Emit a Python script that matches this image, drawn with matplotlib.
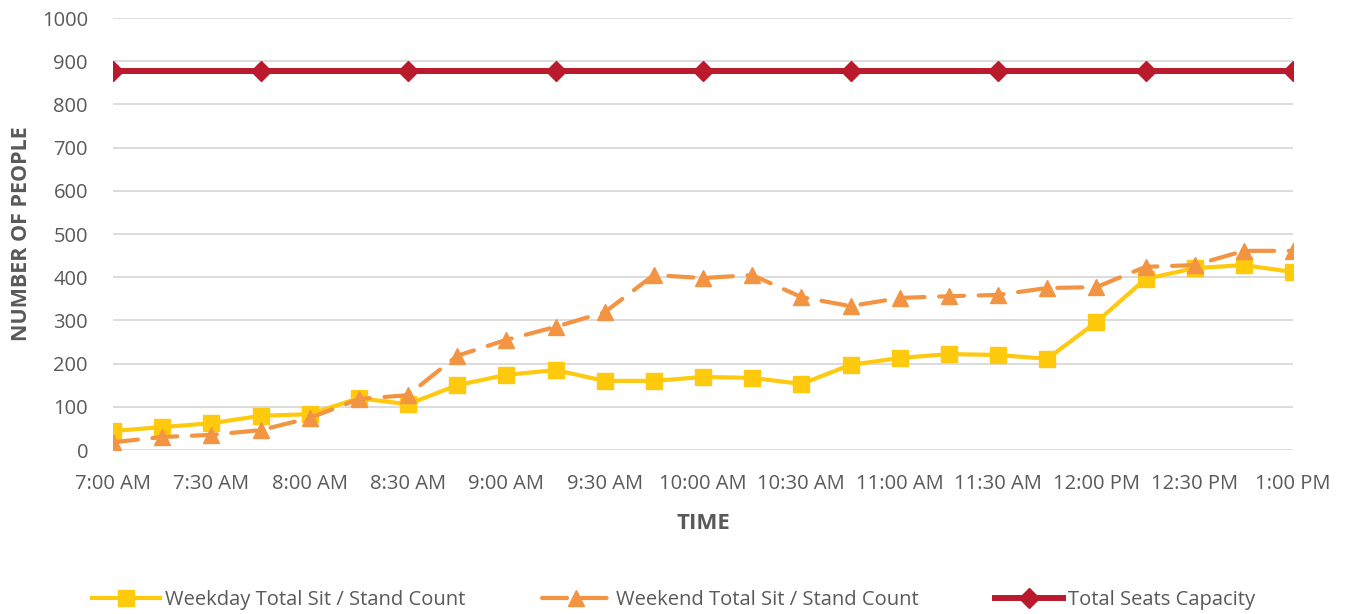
import matplotlib
matplotlib.use('Agg')
import matplotlib.pyplot as plt
from matplotlib.lines import Line2D

plt.rcParams['font.family'] = ['Open Sans', 'DejaVu Sans']

# 15-minute slots from 7:00 AM to 1:00 PM
times = ['7:00 AM', '7:15 AM', '7:30 AM', '7:45 AM', '8:00 AM', '8:15 AM', '8:30 AM',
         '8:45 AM', '9:00 AM', '9:15 AM', '9:30 AM', '9:45 AM', '10:00 AM', '10:15 AM',
         '10:30 AM', '10:45 AM', '11:00 AM', '11:15 AM', '11:30 AM', '11:45 AM',
         '12:00 PM', '12:15 PM', '12:30 PM', '12:45 PM', '1:00 PM']
weekday = [44, 53, 62, 79, 83, 120, 106, 150, 174, 185, 160, 160, 169, 167, 153,
           197, 213, 222, 220, 211, 296, 396, 421, 428, 412]
weekend = [18, 30, 35, 46, 74, 118, 127, 218, 255, 285, 319, 405, 398, 405, 354,
           333, 352, 356, 359, 375, 377, 424, 428, 461, 461]
capacity = [877] * len(times)

c_weekday = '#FFC90E'
c_weekend = '#F39443'
c_cap = '#B91B2C'
gray = '#595959'

fig = plt.figure(figsize=(13.47, 6.14), dpi=100)
ax = fig.add_axes([113 / 1347, 1 - 450 / 614, 1180 / 1347, 432 / 614])

x = list(range(len(times)))
ax.plot(x, capacity, color=c_cap, lw=4.3, marker='D', ms=10, markevery=3, zorder=3)
ax.plot(x, weekday, color=c_weekday, lw=3, marker='s', ms=12, zorder=4)
ax.plot(x, weekend, color=c_weekend, lw=3, marker='^', ms=12, zorder=5,
        dashes=(6, 3.5), dash_capstyle='round')

ax.set_xlim(0, len(times) - 1)
ax.set_ylim(0, 1000)
ax.set_yticks(range(0, 1001, 100))
ax.set_xticks(x[::2])
ax.set_xticklabels(times[::2])
ax.grid(axis='y', color='#D9D9D9', lw=1.3)
ax.set_axisbelow(True)
for s in ax.spines.values():
    s.set_visible(False)
ax.tick_params(length=0, labelsize=14.5, colors=gray)
ax.tick_params(axis='x', pad=17)
ax.tick_params(axis='y', pad=18)

ax.set_ylabel('NUMBER OF PEOPLE', fontsize=15.5, fontweight='bold', color=gray, labelpad=7)
ax.set_xlabel('TIME', fontsize=16, fontweight='bold', color=gray, labelpad=14)

handles = [
    Line2D([], [], color=c_weekday, lw=3, marker='s', ms=12),
    Line2D([], [], color=c_weekend, lw=3, marker='^', ms=12, dashes=(6, 3.5), dash_capstyle='round'),
    Line2D([], [], color=c_cap, lw=4.3, marker='D', ms=10),
]
labels = ['Weekday Total Sit / Stand Count', 'Weekend Total Sit / Stand Count', 'Total Seats Capacity']
leg = fig.legend(handles, labels, loc='center', bbox_to_anchor=(0.5, 1 - 600 / 614), ncol=3,
                 frameon=False, fontsize=14.5, handlelength=3.4, columnspacing=3.8, handletextpad=0.25)
for t in leg.get_texts():
    t.set_color(gray)

fig.savefig('out.png', dpi=100)
